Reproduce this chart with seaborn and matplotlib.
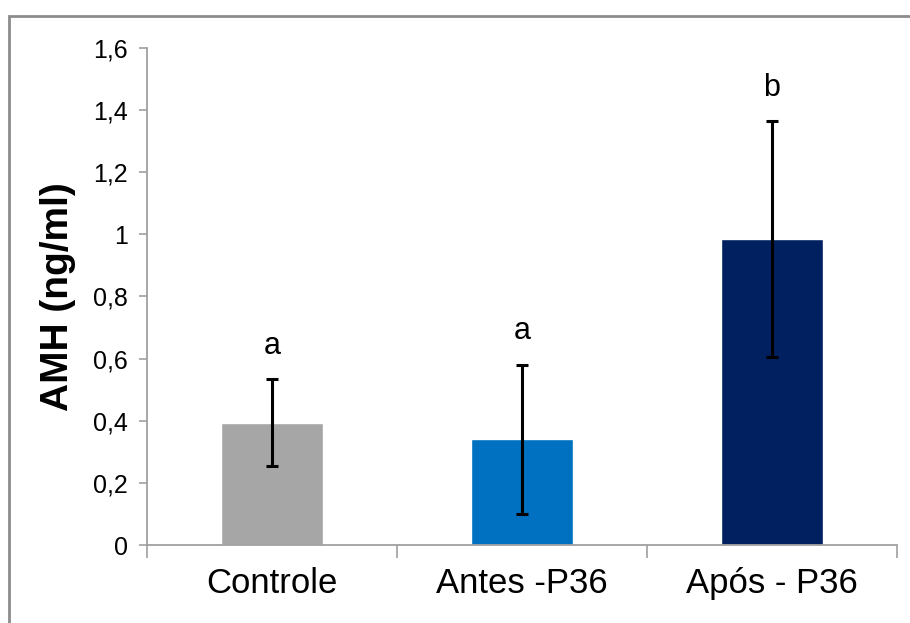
import numpy as np
import pandas as pd
import matplotlib
matplotlib.use("Agg")
import matplotlib.pyplot as plt
import seaborn as sns
from matplotlib.patches import Rectangle
from matplotlib.ticker import FuncFormatter

# ==============================
# Data
# ==============================

groups = ["Controle", "Antes -P36", "Após - P36"]
amh_mean = [0.393, 0.341, 0.984]
amh_sd = [0.14, 0.24, 0.38]
letters = ["a", "a", "b"]
bar_colors = ["#A6A6A6", "#0070C0", "#00205F"]
y_ticks = [0, 0.2, 0.4, 0.6, 0.8, 1.0, 1.2, 1.4, 1.6]

df = pd.DataFrame({"grupo": groups, "amh": amh_mean})

# ==============================
# Plot
# ==============================

sns.set_style("white")
plt.rcParams["font.family"] = ["Liberation Sans", "DejaVu Sans"]
plt.rcParams["text.color"] = "black"
plt.rcParams["axes.labelcolor"] = "black"
plt.rcParams["xtick.labelcolor"] = "black"
plt.rcParams["ytick.labelcolor"] = "black"

fig = plt.figure(figsize=(9.1, 6.23), dpi=100)
ax = fig.add_axes([0.1615, 0.1252, 0.8242, 0.7978])

sns.barplot(
    data=df, x="grupo", y="amh", hue="grupo",
    palette=bar_colors, width=0.41, errorbar=None,
    legend=False, ax=ax, saturation=1,
)

ax.errorbar(
    range(len(groups)), amh_mean, yerr=amh_sd,
    fmt="none", ecolor="black", elinewidth=2.2,
    capsize=4, capthick=2.2, zorder=5,
)

for i, (m, s, lab) in enumerate(zip(amh_mean, amh_sd, letters)):
    ax.text(i, m + s + 0.06, lab, ha="center", va="bottom", fontsize=22,
            color="black")

# axes styling
ax.set_xlim(-0.5, 2.5)
ax.set_ylim(0, 1.6)
ax.set_yticks(y_ticks)
ax.yaxis.set_major_formatter(
    FuncFormatter(lambda v, p: f"{v:g}".replace(".", ","))
)
ax.set_xlabel("")
ax.set_ylabel("AMH (ng/ml)", fontsize=28, fontweight="bold", labelpad=12,
              color="black")

spine_col = "#A0A0A0"
for side in ["top", "right"]:
    ax.spines[side].set_visible(False)
for side in ["left", "bottom"]:
    ax.spines[side].set_color(spine_col)
    ax.spines[side].set_linewidth(1.3)

ax.tick_params(axis="y", which="major", direction="out", length=6,
               color=spine_col, width=1.2, labelsize=18, pad=8, left=True,
               labelcolor="black")
ax.set_xticks([-0.5, 0.5, 1.5, 2.5], minor=True)
ax.tick_params(axis="x", which="minor", direction="out", length=9,
               color=spine_col, width=1.2, bottom=True)
ax.tick_params(axis="x", which="major", length=0, labelsize=25, pad=16,
               labelcolor="black")

# outer chart frame (only top and left visible in the crop)
fig.patches.append(Rectangle(
    (9 / 910, -0.1), 1.2, (623 - 16) / 623 + 0.1,
    transform=fig.transFigure, fill=False,
    edgecolor="#8C8C8C", linewidth=2, zorder=0,
))

plt.savefig("out.png", dpi=100)
plt.close()
